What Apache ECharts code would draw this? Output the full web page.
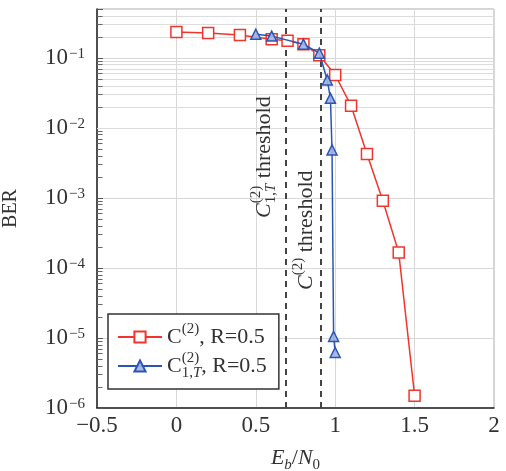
<!DOCTYPE html>
<html>
<head>
<meta charset="utf-8">
<script src="https://cdn.jsdelivr.net/npm/echarts@6/dist/echarts.min.js"></script>
<style>
  html, body { margin: 0; padding: 0; background: #fff; }
  #chart { width: 506px; height: 471px; }
</style>
</head>
<body>
<div id="chart"></div>
<script>
// BER curves
let ebnoC = [0, 0.2, 0.4, 0.6, 0.7, 0.8, 0.9, 1.0, 1.1, 1.2, 1.3, 1.4, 1.5];
let berC = [0.235, 0.228, 0.213, 0.185, 0.176, 0.157, 0.109, 0.057, 0.0208, 0.00425, 9.1e-4, 1.66e-4, 1.5e-6];
let ebnoT = [0.5, 0.6, 0.8, 0.9, 0.95, 0.97, 0.98, 0.99, 1.0];
let berT = [0.218, 0.205, 0.157, 0.117, 0.0485, 0.0265, 0.00485, 1.05e-5, 6.2e-6];
let thresholds = [0.69, 0.91];
let xTicks = [-0.5, 0, 0.5, 1, 1.5, 2];

const FONT = "'Liberation Serif', serif";
const TXT = '#333';
const RED = '#f2352c';
const BLUE = '#2a55b5';
const yMin = 1e-6, yMax = 0.5;

// minor log grid: 2..9 x 10^k
let minorVals = [];
for (let k = -6; k <= -1; k++) {
    for (let m = 2; m <= 9; m++) {
        let v = m * Math.pow(10, k);
        if (v < yMax) minorVals.push(v);
    }
}
let gridLines = minorVals.map(v => ({yAxis: v}));
let tickLines = minorVals.map(v => [{coord: [xTicks[0], v]}, {coord: [-0.465, v]}]);

const rich = {
    r: {fontFamily: FONT, fontSize: 22, color: TXT, lineHeight: 30},
    i: {fontFamily: FONT, fontSize: 22, color: TXT, fontStyle: 'italic', lineHeight: 30},
    sup: {fontFamily: FONT, fontSize: 15, color: TXT, verticalAlign: 'top', lineHeight: 15},
    sup0: {fontFamily: FONT, fontSize: 15, color: TXT, verticalAlign: 'top', lineHeight: 15, width: 0},
    sub: {fontFamily: FONT, fontSize: 15, color: TXT, verticalAlign: 'bottom', lineHeight: 15},
    subi: {fontFamily: FONT, fontSize: 15, color: TXT, verticalAlign: 'bottom', lineHeight: 15, fontStyle: 'italic'}
};

let pairs = (xs, ys) => xs.map((x, i) => [x, ys[i]]);

var myChart = echarts.init(document.getElementById('chart'), null, {renderer: 'canvas'});
var option = {
    animation: false,
    grid: {
        left: 97, right: 12, top: 9, bottom: 63,
        outerBoundsMode: 'none',
        show: true, borderColor: '#aaa', borderWidth: 1
    },
    xAxis: {
        type: 'value',
        min: -0.5, max: 2, interval: 0.5,
        name: '{i|E}{subi|b}{r|/}{i|N}{sub|0}',
        nameLocation: 'middle',
        nameGap: 35,
        nameTextStyle: {rich: rich},
        axisLine: {onZero: false, lineStyle: {color: '#222', width: 1.5}},
        axisTick: {show: false},
        splitLine: {lineStyle: {color: '#d8d8d8'}},
        axisLabel: {
            margin: 6,
            fontFamily: FONT, fontSize: 23, color: TXT,
            formatter: v => v < 0 ? '\u2212' + Math.abs(v) : String(v)
        }
    },
    yAxis: {
        type: 'log',
        min: yMin, max: yMax,
        name: 'BER',
        nameLocation: 'middle',
        nameGap: 76,
        nameTextStyle: {fontFamily: FONT, fontSize: 20, color: TXT},
        axisLine: {onZero: false, lineStyle: {color: '#222', width: 1.5}},
        axisTick: {inside: true, length: 6, lineStyle: {color: '#555'}},
        splitLine: {lineStyle: {color: '#d8d8d8'}},
        axisLabel: {
            margin: 12,
            formatter: function (v) {
                let l = Math.log10(v), e = Math.round(l);
                if (Math.abs(l - e) > 1e-6) return '';
                return '{b|10}{s|\u2212' + (-e) + '}';
            },
            rich: {
                b: {fontFamily: FONT, fontSize: 23, color: TXT, verticalAlign: 'bottom', lineHeight: 23},
                s: {fontFamily: FONT, fontSize: 15, color: TXT, verticalAlign: 'top', lineHeight: 15, padding: [0, 0, 12, 1]}
            }
        }
    },
    legend: {
        orient: 'vertical',
        left: 108, top: 314,
        padding: [8, 12, 8, 9],
        itemGap: 3,
        itemWidth: 44, itemHeight: 14,
        backgroundColor: '#fff',
        borderColor: '#333', borderWidth: 1.5, borderRadius: 0,
        data: ['C2', 'C21T'],
        formatter: function (name) {
            if (name === 'C2') return '{r|C}{sup|(2)}{r|, R=0.5}';
            return '{r|C}{sup0|(2)}{sub|1,}{subi|T}{r|, R=0.5}';
        },
        textStyle: {rich: rich}
    },
    series: [
        {
            name: 'grid',
            type: 'line',
            data: [],
            silent: true,
            z: 1,
            markLine: {
                silent: true, symbol: 'none', animation: false,
                label: {show: false},
                lineStyle: {type: 'solid', color: '#dcdcdc', width: 1},
                data: gridLines
            }
        },
        {
            name: 'ticks',
            type: 'line',
            data: [],
            silent: true,
            z: 3,
            markLine: {
                silent: true, symbol: 'none', animation: false,
                label: {show: false},
                lineStyle: {type: 'solid', color: '#666', width: 1},
                data: tickLines
            }
        },
        {
            name: 'thresh',
            type: 'line',
            data: [],
            silent: true,
            z: 3,
            markLine: {
                silent: true, symbol: 'none', animation: false,
                lineStyle: {type: [6, 5], color: '#444', width: 2},
                data: [
                    {
                        xAxis: thresholds[0],
                        label: {
                            show: true, position: 'insideStartTop', distance: [190, 7],
                            formatter: '{i|C}{sup0|(2)}{sub|1,}{subi|T}{r| threshold}',
                            rich: rich
                        }
                    },
                    {
                        xAxis: thresholds[1],
                        label: {
                            show: true, position: 'insideStartTop', distance: [118, 0],
                            formatter: '{i|C}{sup|(2)}{r| threshold}',
                            rich: rich
                        }
                    }
                ]
            }
        },
        {
            name: 'C2',
            type: 'line',
            data: pairs(ebnoC, berC),
            color: RED,
            symbol: 'rect',
            symbolSize: 11,
            z: 5,
            lineStyle: {color: RED, width: 1.5},
            itemStyle: {color: '#fff', borderColor: RED, borderWidth: 1.5}
        },
        {
            name: 'C21T',
            type: 'line',
            data: pairs(ebnoT, berT),
            color: BLUE,
            symbol: 'triangle',
            symbolSize: 10,
            z: 6,
            lineStyle: {color: BLUE, width: 1.5},
            itemStyle: {color: 'rgba(160,180,225,0.9)', borderColor: BLUE, borderWidth: 1.5}
        }
    ]
};
myChart.setOption(option);
</script>
</body>
</html>
